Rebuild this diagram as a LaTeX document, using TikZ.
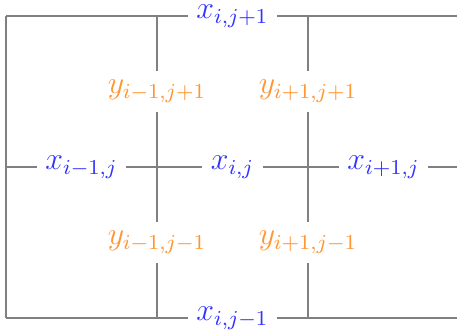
\documentclass[tikz,border=0pt]{standalone}
\usepackage{amsmath}
\usepackage{xcolor}
\usetikzlibrary{positioning}
\definecolor{xblue}{RGB}{51,51,255}
\definecolor{yorange}{RGB}{255,150,51}
\begin{document}
\begin{tikzpicture}[
    x=2cm, y=2cm,
    gridline/.style={draw=black!50, line width=0.5pt},
    xvar/.style={fill=white, text=xblue, font=\large},
    yvar/.style={fill=white, text=yorange, font=\large}
]
\useasboundingbox (-0.04,-0.113) rectangle (2.987,2.106);
% staggered grid
\draw[gridline] (0,0) -- (2.987,0);
\draw[gridline] (0,1) -- (2.987,1);
\draw[gridline] (0,2) -- (2.987,2);
\draw[gridline] (0,0) -- (0,2);
\draw[gridline] (1,0) -- (1,2);
\draw[gridline] (2,0) -- (2,2);

% cell unknowns
\node[xvar] (xc) at (1.5,1) {$x_{i,j}$};
\node[xvar] (xw) at (0.5,1) {$x_{i-1,j}$};
\node[xvar] (xe) at (2.5,1) {$x_{i+1,j}$};
\node[xvar] (xn) at (1.5,2) {$x_{i,j+1}$};
\node[xvar] (xs) at (1.5,0) {$x_{i,j-1}$};

% corner unknowns
\node[yvar] (ynw) at (1,1.5) {$y_{i-1,j+1}$};
\node[yvar] (yne) at (2,1.5) {$y_{i+1,j+1}$};
\node[yvar] (ysw) at (1,0.5) {$y_{i-1,j-1}$};
\node[yvar] (yse) at (2,0.5) {$y_{i+1,j-1}$};
\end{tikzpicture}
\end{document}
